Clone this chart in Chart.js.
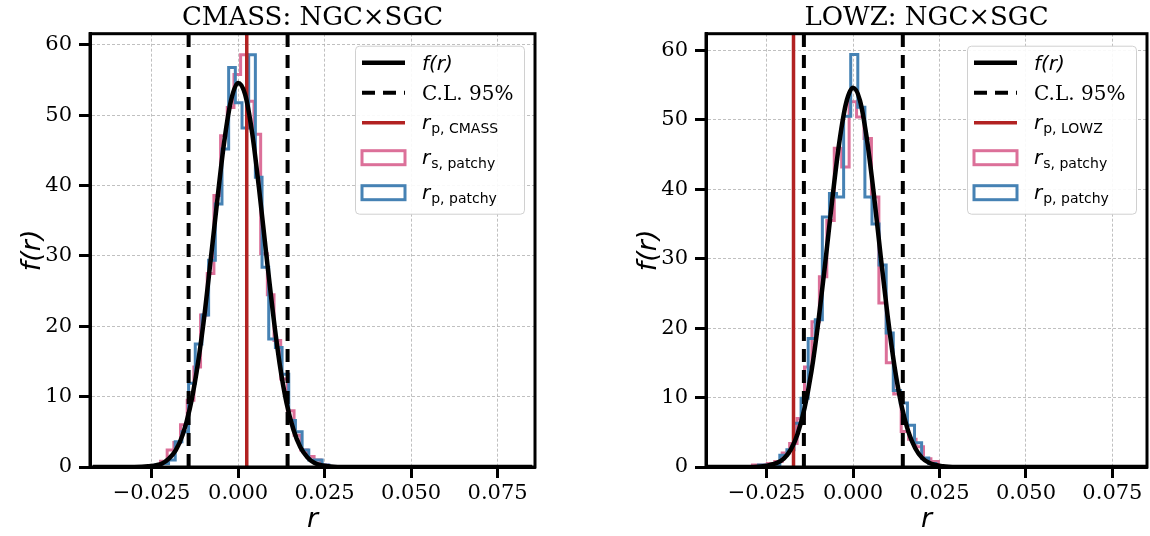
<!DOCTYPE html>
<html lang="en">
<head>
<meta charset="UTF-8">
<title>NGC x SGC</title>
<script src="https://cdn.jsdelivr.net/npm/chart.js@4.4.3/dist/chart.umd.min.js"></script>
<style>
  body { margin: 0; background: #fff; }
  .panel { position: absolute; top: 0; width: 575px; height: 536px; }
  #left { left: 0; }
  #right { left: 575px; }
</style>
</head>
<body>
<div class="panel" id="left"><canvas id="cmass" width="575" height="536"></canvas></div>
<div class="panel" id="right"><canvas id="lowz" width="575" height="536"></canvas></div>
<script>
// values
const xTicks = [-0.025, 0, 0.025, 0.05, 0.075];
const yTicks = [0, 10, 20, 30, 40, 50, 60];

// r grid where f(r) was read
const curveR = [-0.042, -0.03, -0.026, -0.022, -0.020, -0.018, -0.016, -0.014, -0.012, -0.010, -0.008, -0.006, -0.004, -0.002,
  0, 0.002, 0.004, 0.006, 0.008, 0.010, 0.012, 0.014, 0.016, 0.018, 0.020, 0.022, 0.026, 0.030, 0.085];

// CMASS
const cmassCurve = [0, 0, 0.1, 0.5, 1.2, 2.4, 4.6, 8.2, 13.5, 20.5, 29.1, 38.0, 46.3, 52.2,
  54.6, 53.0, 47.7, 39.8, 30.9, 22.2, 14.7, 9.1, 5.3, 2.8, 1.4, 0.6, 0.1, 0, 0];
const cmassRsEdges = [-0.02629, -0.02436, -0.02243, -0.02050, -0.01857, -0.01664, -0.01471, -0.01278, -0.01085, -0.00892,
  -0.00699, -0.00506, -0.00313, -0.00120, 0.00073, 0.00266, 0.00459, 0.00652, 0.00845, 0.01038, 0.01231, 0.01424,
  0.01617, 0.01810, 0.02003, 0.02196, 0.02389, 0.02582, 0.02775];
const cmassRsCounts = [0, 0.2, 0.8, 2.4, 3.5, 6.0, 9.5, 14.2, 21.6, 27.5, 38.6, 47.1, 51.1, 55.8, 58.6, 52.0, 47.3, 30.3,
  24.5, 18.0, 12.5, 8.0, 4.5, 2.4, 1.5, 1.0, 0.3, 0];
const cmassRpEdges = [-0.02589, -0.02396, -0.02203, -0.02010, -0.01817, -0.01624, -0.01431, -0.01238, -0.01045, -0.00852,
  -0.00659, -0.00466, -0.00273, -0.00080, 0.00113, 0.00306, 0.00499, 0.00692, 0.00885, 0.01078, 0.01271, 0.01464,
  0.01657, 0.01850, 0.02043, 0.02236, 0.02429, 0.02622, 0.02815];
const cmassRpCounts = [0, 0.3, 0.5, 1.0, 3.6, 5.0, 11.9, 17.5, 21.6, 29.4, 37.4, 45.2, 56.8, 51.8, 48.2, 58.6, 41.2, 28.4,
  18.2, 17.0, 13.2, 6.6, 5.0, 2.4, 1.0, 1.0, 0.3, 0];
const cmassCL = [-0.0143, 0.0143];
const cmassRp = 0.0025;

// LOWZ
const lowzCurve = [0, 0, 0.1, 0.6, 1.2, 2.5, 4.8, 8.5, 13.8, 21.0, 29.5, 38.5, 46.6, 52.4,
  54.6, 52.8, 47.3, 39.4, 30.4, 21.8, 14.5, 8.9, 5.1, 2.7, 1.3, 0.6, 0.1, 0, 0];
const lowzRsEdges = [-0.02907, -0.02692, -0.02477, -0.02262, -0.02047, -0.01832, -0.01617, -0.01402, -0.01187, -0.00972,
  -0.00757, -0.00542, -0.00327, -0.00112, 0.00103, 0.00318, 0.00533, 0.00748, 0.00963, 0.01178, 0.01393, 0.01608,
  0.01823, 0.02038, 0.02253, 0.02468, 0.02683];
const lowzRsCounts = [0.3, 0.3, 0.5, 0.8, 2.0, 3.4, 7.0, 14.4, 20.9, 27.4, 35.5, 45.9, 43.2, 52.6, 50.4, 47.3, 38.9, 23.6,
  15.0, 10.5, 5.1, 4.0, 2.9, 1.2, 0.8, 0];
const lowzRpEdges = [-0.02731, -0.02526, -0.02321, -0.02116, -0.01911, -0.01706, -0.01501, -0.01296, -0.01091, -0.00886,
  -0.00681, -0.00476, -0.00271, -0.00066, 0.00139, 0.00344, 0.00549, 0.00754, 0.00959, 0.01164, 0.01369, 0.01574,
  0.01779, 0.01984, 0.02189, 0.02394, 0.02599];
const lowzRpCounts = [0.3, 0.3, 0.3, 1.7, 2.5, 6.3, 9.9, 18.5, 21.2, 36.0, 39.4, 38.9, 50.5, 59.4, 51.8, 38.9, 35.0, 29.1,
  19.3, 11.0, 9.2, 6.0, 3.5, 1.3, 0.5, 0];
const lowzCL = [-0.0142, 0.0144];
const lowzRp = -0.0172;

const RED = '#b22222';
const PINK = '#dc7099';
const BLUE = '#4682b4';

Chart.defaults.font.family = '"DejaVu Serif"';
Chart.defaults.color = '#000';

// outline of a step histogram
function stepPoints(edges, counts) {
    const pts = [{ x: edges[0], y: 0 }];
    counts.forEach((c, i) => pts.push({ x: edges[i], y: c }));
    pts.push({ x: edges[edges.length - 1], y: 0 });
    return pts;
}

function fmtX(v) {
    return (v < 0 ? '\u2212' : '') + Math.abs(v).toFixed(3);
}

function drawLegend(ctx, area, survey) {
    const w = 169, h = 168;
    const x0 = area.right - 11 - w;
    const y0 = area.top + 12;
    ctx.save();
    ctx.beginPath();
    if (ctx.roundRect) ctx.roundRect(x0 + 0.5, y0 + 0.5, w, h, 4);
    else ctx.rect(x0 + 0.5, y0 + 0.5, w, h);
    ctx.fillStyle = 'rgba(255,255,255,0.9)';
    ctx.fill();
    ctx.lineWidth = 1;
    ctx.strokeStyle = '#d0d0d0';
    ctx.stroke();

    const hx0 = x0 + 7, hx1 = x0 + 50, tx = x0 + 67;
    const rows = [17, 47, 77, 112, 147].map(d => y0 + d);
    ctx.textAlign = 'left';
    ctx.textBaseline = 'alphabetic';

    function seg(y, color, width, dash) {
        ctx.beginPath();
        ctx.setLineDash(dash);
        ctx.lineWidth = width;
        ctx.strokeStyle = color;
        ctx.moveTo(hx0, y);
        ctx.lineTo(hx1, y);
        ctx.stroke();
        ctx.setLineDash([]);
    }
    function box(y, color) {
        ctx.lineWidth = 3;
        ctx.strokeStyle = color;
        ctx.strokeRect(hx0, y - 7, hx1 - hx0, 14);
    }
    function rLabel(y, sub) {
        ctx.fillStyle = '#000';
        ctx.font = 'italic 20px "DejaVu Sans"';
        ctx.fillText('r', tx, y + 6);
        const rw = ctx.measureText('r').width;
        ctx.font = '14px "DejaVu Sans"';
        ctx.fillText(sub, tx + rw + 1, y + 10);
    }

    seg(rows[0], '#000', 4.5, []);
    ctx.fillStyle = '#000';
    ctx.font = 'italic 20px "DejaVu Sans"';
    ctx.fillText('f(r)', tx, rows[0] + 7);

    seg(rows[1], '#000', 4, [13, 8]);
    ctx.font = '20px "DejaVu Serif"';
    ctx.fillText('C.L. 95%', tx, rows[1] + 7);

    seg(rows[2], RED, 3.5, []);
    rLabel(rows[2], 'p, ' + survey);

    box(rows[3], PINK);
    rLabel(rows[3], 's, patchy');
    box(rows[4], BLUE);
    rLabel(rows[4], 'p, patchy');
    ctx.restore();
}

// full box around the axes + legend
const framePlugin = {
    id: 'frame',
    afterDatasetsDraw(chart, args, opts) {
        const { ctx, chartArea: a } = chart;
        ctx.save();
        ctx.strokeStyle = '#000';
        ctx.lineWidth = 3;
        ctx.strokeRect(a.left, a.top, a.right - a.left, a.bottom - a.top);
        ctx.restore();
        drawLegend(ctx, a, opts.survey);
    }
};

function makeChart(id, p) {
    const datasets = [
        {
            data: curveR.map((r, i) => ({ x: r, y: p.curve[i] })),
            borderColor: '#000', borderWidth: 4.5, cubicInterpolationMode: 'monotone', order: 0
        },
        ...p.cl.map(v => ({
            data: [{ x: v, y: 0 }, { x: v, y: p.yMax }],
            borderColor: '#000', borderWidth: 4, borderDash: [13, 8], order: 1
        })),
        {
            data: [{ x: p.rp, y: 0 }, { x: p.rp, y: p.yMax }],
            borderColor: RED, borderWidth: 3.5, order: 2
        },
        {
            data: stepPoints(p.rpEdges, p.rpCounts),
            borderColor: BLUE, borderWidth: 3, stepped: 'before', order: 3
        },
        {
            data: stepPoints(p.rsEdges, p.rsCounts),
            borderColor: PINK, borderWidth: 3, stepped: 'before', order: 4
        }
    ];

    const grid = { color: '#b0b0b0', lineWidth: 0.8, tickColor: '#000', tickWidth: 3, tickLength: 11 };
    const border = { color: '#000', width: 3, dash: [3, 2] };
    const labelFont = { family: '"DejaVu Sans"', size: 27, style: 'italic' };

    return new Chart(document.getElementById(id), {
        type: 'line',
        data: { datasets },
        plugins: [framePlugin],
        options: {
            responsive: false,
            animation: false,
            devicePixelRatio: 1,
            layout: { padding: { left: p.padLeft, right: p.padRight, top: 0, bottom: 0 } },
            elements: { point: { radius: 0 }, line: { tension: 0 } },
            plugins: {
                legend: { display: false },
                tooltip: { enabled: false },
                title: {
                    display: true, text: p.title, fullSize: false, color: '#000',
                    font: { family: '"DejaVu Serif"', size: 26, weight: 'normal' },
                    padding: { top: 2.5, bottom: 0 }
                },
                frame: { survey: p.survey }
            },
            scales: {
                x: {
                    type: 'linear', min: p.xMin, max: p.xMax,
                    afterBuildTicks: ax => { ax.ticks = xTicks.map(v => ({ value: v })); },
                    afterFit: ax => { ax.height = 69; },
                    ticks: { font: { size: 21 }, color: '#000', padding: 3, maxRotation: 0, autoSkip: false, callback: fmtX },
                    grid, border,
                    title: { display: true, text: 'r', font: labelFont, color: '#000', padding: 0 }
                },
                y: {
                    type: 'linear', min: 0, max: p.yMax,
                    afterBuildTicks: ax => { ax.ticks = yTicks.map(v => ({ value: v })); },
                    afterFit: ax => { ax.width = 73; },
                    ticks: { font: { size: 21 }, color: '#000', padding: 7, autoSkip: false, callback: v => String(v) },
                    grid, border,
                    title: { display: true, text: 'f(r)', font: labelFont, color: '#000', padding: 0 }
                }
            }
        }
    });
}

makeChart('cmass', {
    title: 'CMASS: NGC\u00d7SGC', survey: 'CMASS',
    curve: cmassCurve, rsEdges: cmassRsEdges, rsCounts: cmassRsCounts,
    rpEdges: cmassRpEdges, rpCounts: cmassRpCounts, cl: cmassCL, rp: cmassRp,
    xMin: -0.0428, xMax: 0.0858, yMax: 61.6, padLeft: 17, padRight: 40
});

makeChart('lowz', {
    title: 'LOWZ: NGC\u00d7SGC', survey: 'LOWZ',
    curve: lowzCurve, rsEdges: lowzRsEdges, rsCounts: lowzRsCounts,
    rpEdges: lowzRpEdges, rpCounts: lowzRpCounts, cl: lowzCL, rp: lowzRp,
    xMin: -0.0425, xMax: 0.0850, yMax: 62.4, padLeft: 58, padRight: 3
});
</script>
</body>
</html>
